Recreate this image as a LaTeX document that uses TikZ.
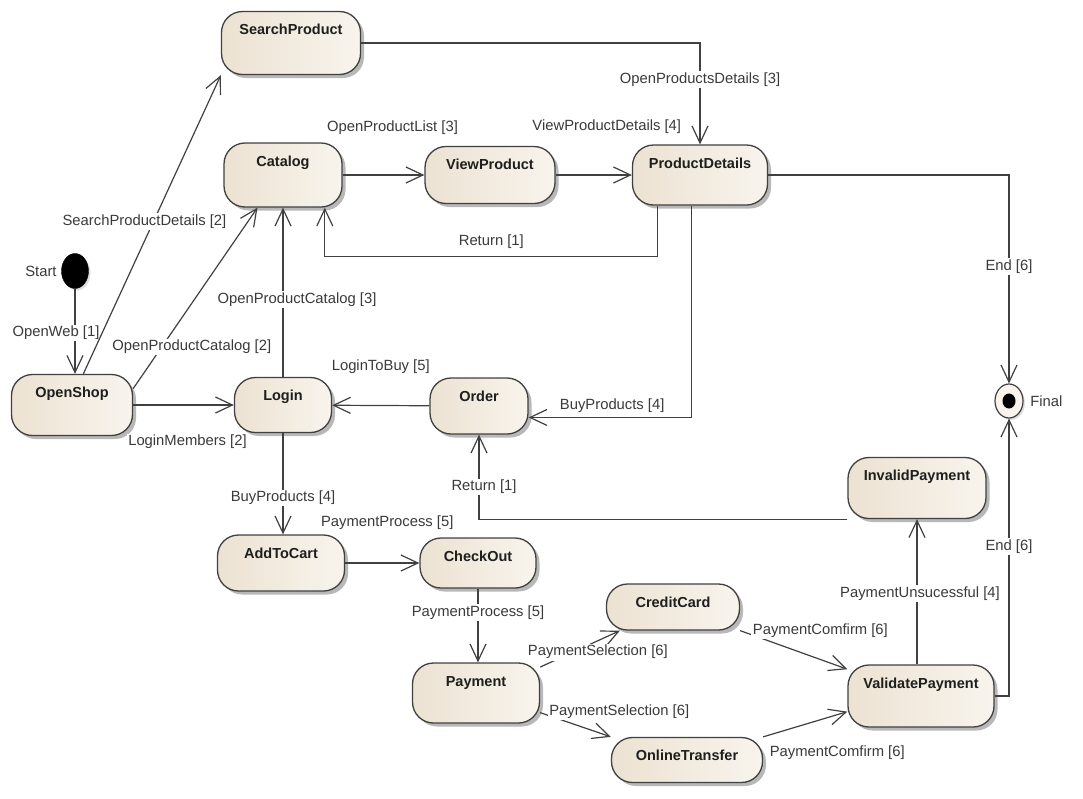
\documentclass[tikz,border=0pt]{standalone}
\usepackage{fontspec}
\setmainfont{Liberation Sans}
\usepackage{tikz}
\usetikzlibrary{arrows.meta,shapes.geometric,shadows}
\definecolor{ink}{HTML}{1E1E1E}
\definecolor{soft}{HTML}{3A3A3A}
\definecolor{line}{HTML}{404040}
\definecolor{stateL}{HTML}{ECE2D2}
\definecolor{stateR}{HTML}{F8F4ED}
\tikzset{
  state/.style={draw=line, line width=1.3pt, rounded corners=21pt,
                left color=stateL, right color=stateR,
                drop shadow={shadow xshift=3.5pt, shadow yshift=-3.5pt, fill=black, opacity=.28},
                inner xsep=6pt, inner ysep=6pt, text height=17pt,
                font=\fontsize{14.5}{17}\selectfont\bfseries, text=ink},
  initial/.style={ellipse, fill=black, draw=black, minimum width=27pt, minimum height=35pt,
                  inner sep=0pt, drop shadow={shadow xshift=2pt, shadow yshift=-2pt, opacity=.25}},
  final/.style={ellipse, draw=line, line width=1.2pt, fill=stateR, minimum width=28pt,
                minimum height=34pt, inner sep=0pt,
                drop shadow={shadow xshift=2pt, shadow yshift=-2pt, opacity=.25},
                path picture={\fill[black] (path picture bounding box.center)
                  ellipse [x radius=6.5pt, y radius=7.5pt];}},
  flow/.style={-{Straight Barb[length=17pt, width=16pt]}, draw=line, line width=1.2pt},
  lbl/.style={font=\fontsize{14.8}{17}\selectfont, text=soft, fill=white, inner sep=1.5pt},
}

\begin{document}
\begin{tikzpicture}[x=1pt, y=-1pt]
  \useasboundingbox (0,0) rectangle (1083,798);
  % states
  \node[initial, label={[lbl, xshift=-3pt]left:Start}] (start) at (75,271) {};
  \node[state, minimum width=121pt, text depth=32pt] (openshop) at (72,405) {OpenShop};
  \node[state, minimum width=139pt, text depth=34pt] (search) at (291,43) {SearchProduct};
  \node[state, minimum width=118pt, text depth=35pt] (catalog) at (283,175) {Catalog};
  \node[state, minimum width=130pt, text depth=28pt] (viewprod) at (490,175) {ViewProduct};
  \node[state, minimum width=135pt, text depth=31pt] (details) at (700,175) {ProductDetails};
  \node[state, minimum width=97pt, text depth=26pt] (login) at (283,405) {Login};
  \node[state, minimum width=98pt, text depth=27pt] (order) at (479,406) {Order};
  \node[final, label={[lbl, xshift=5pt]right:Final}] (final) at (1009,401) {};
  \node[state, minimum width=138pt, text depth=32pt] (invalid) at (917,488) {InvalidPayment};
  \node[state, minimum width=127pt, text depth=27pt] (cart) at (281,563) {AddToCart};
  \node[state, minimum width=116pt, text depth=21pt] (checkout) at (478,563) {CheckOut};
  \node[state, minimum width=133pt, text depth=17pt] (credit) at (673,607) {CreditCard};
  \node[state, minimum width=127pt, text depth=31pt] (payment) at (476,693) {Payment};
  \node[state, minimum width=146pt, text depth=33pt] (validate) at (921,696) {ValidatePayment};
  \node[state, minimum width=151pt, text depth=16pt] (online) at (687,760) {OnlineTransfer};

  % transitions
  \draw[flow] (start) -- (start |- openshop.north)
    node[lbl, pos=.52, xshift=-19pt] (tWeb) {OpenWeb [1]};
  \draw[flow] (openshop.70) -- (search.south west)
    node[lbl, pos=.51, xshift=-9pt] (tSearch) {SearchProductDetails [2]};
  \draw[flow] (openshop.15) -- (catalog.232)
    node[lbl, pos=.23, xshift=30pt] (tCat2) {OpenProductCatalog [2]};
  \draw[flow] (openshop) -- (login)
    node[lbl, pos=.5, xshift=4pt, yshift=-37pt] (tMembers) {LoginMembers [2]};
  \draw[flow] (login) -- (catalog)
    node[lbl, pos=.455, xshift=14pt] (tCat3) {OpenProductCatalog [3]};
  \draw[flow] (catalog) -- (viewprod)
    node[lbl, pos=.5, xshift=9pt, yshift=47pt] (tList) {OpenProductList [3]};
  \draw[flow] (viewprod) -- (details)
    node[lbl, pos=.5, xshift=13pt, yshift=48pt] (tView) {ViewProductDetails [4]};
  \draw[flow] (search) -| (details)
    node[lbl, pos=.68] (tOpenDet) {OpenProductsDetails [3]};
  \draw[flow] (details.216) -- ++(0,51) -| (catalog.322)
    node[lbl, pos=.25, yshift=15pt] (tRet1) {Return [1]};
  \draw[flow] (details) -| (final)
    node[lbl, pos=.72] (tEnd1) {End [6]};
  \draw[flow] (details.255) |- (order.347)
    node[lbl, pos=.75, xshift=2pt, yshift=12pt] (tBuy1) {BuyProducts [4]};
  \draw[flow] (order) -- (login)
    node[lbl, pos=.5, yshift=39pt] (tToBuy) {LoginToBuy [5]};
  \draw[flow] (login) -- (login |- cart.north)
    node[lbl, pos=.64] (tBuy2) {BuyProducts [4]};
  \draw[flow] (cart) -- (checkout)
    node[lbl, pos=.5, xshift=5pt, yshift=40pt] (tProc1) {PaymentProcess [5]};
  \draw[flow] (checkout) -- (checkout |- payment.north)
    node[lbl, pos=.32] (tProc2) {PaymentProcess [5]};
  \draw[flow] (payment.22) -- (credit.204)
    node[lbl, pos=.41, xshift=25pt] (tSel1) {PaymentSelection [6]};
  \draw[flow] (payment.343) -- (online.north west)
    node[lbl, pos=.1, anchor=west, yshift=3pt] (tSel2) {PaymentSelection [6]};
  \draw[flow] (credit.south east) -- (validate.160)
    node[lbl, pos=.1, anchor=west, yshift=4pt] (tConf1) {PaymentComfirm [6]};
  \draw[flow] (online.north east) -- (validate.192)
    node[lbl, pos=.5, xshift=32pt, yshift=-28pt] (tConf2) {PaymentComfirm [6]};
  \draw[flow] (validate.north -| invalid) -- (invalid)
    node[lbl, pos=.49, xshift=3pt] (tUnsuc) {PaymentUnsucessful [4]};
  \draw[flow] (validate) -| (final)
    node[lbl, pos=.77] (tEnd2) {End [6]};
  \draw[flow] (invalid.south west) -| (order)
    node[lbl, pos=.69, xshift=5pt] (tRet2) {Return [1]};
\end{tikzpicture}
\end{document}
